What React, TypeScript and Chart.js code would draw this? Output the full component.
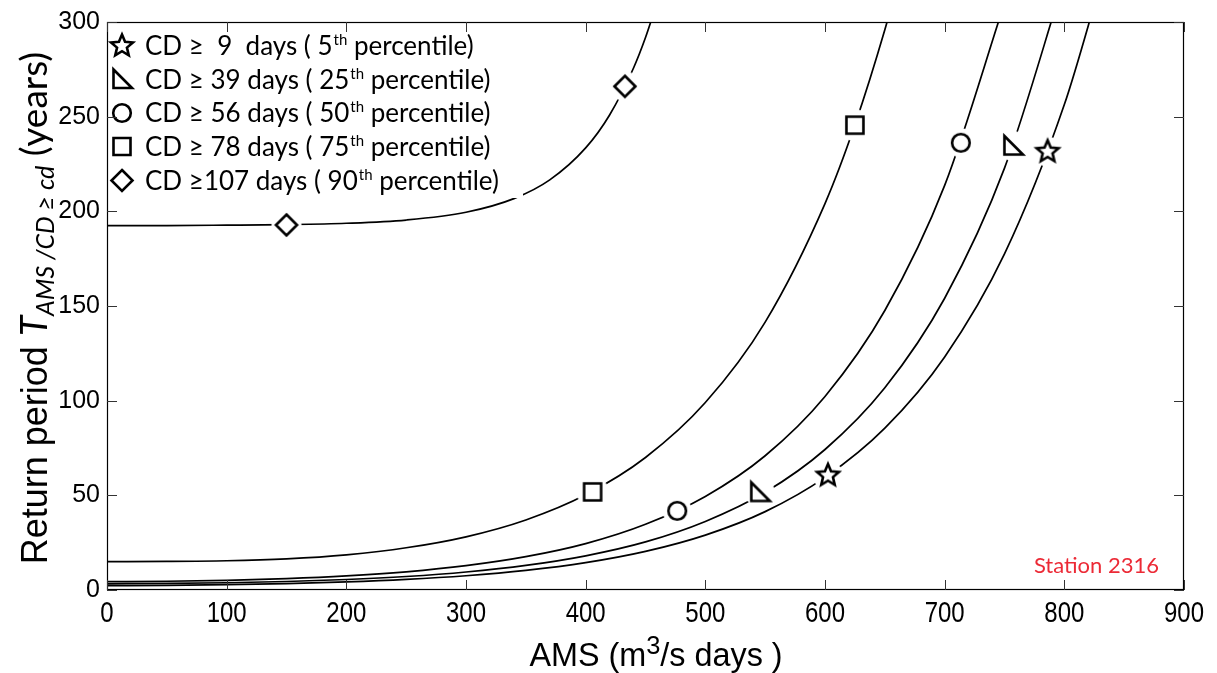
import React, { useEffect, useRef } from "react";
import { Chart, registerables } from "chart.js";

Chart.register(...registerables);

// ---------- data ----------
const X_TICKS = [0, 100, 200, 300, 400, 500, 600, 700, 800, 900];
const Y_TICKS = [0, 50, 100, 150, 200, 250, 300];

// CD >= 9 days (5th percentile) - star
const CD9_AMS = [0, 50, 100, 150, 200, 250, 300, 350, 400, 450, 500, 550, 600, 650, 700, 750, 800, 830];
const CD9_T = [2.3, 2.48, 2.82, 3.39, 4.27, 5.59, 7.53, 10.35, 14.45, 20.4, 29.0, 41.4, 59.5, 85.5, 123.1, 177.5, 256.4, 319.8];
const CD9_MARK_AMS = [602.5, 786];
const CD9_MARK_T = [60.5, 231.5];

// CD >= 39 days (25th percentile) - right triangle
const CD39_AMS = [0, 50, 100, 150, 200, 250, 300, 350, 400, 450, 500, 550, 600, 650, 700, 750, 800];
const CD39_T = [3.27, 3.45, 3.82, 4.48, 5.54, 7.14, 9.51, 12.99, 18.06, 25.4, 36.2, 51.6, 74.2, 106.8, 154.1, 222.8, 322.6];
const CD39_MARK_AMS = [545.5, 757];
const CD39_MARK_T = [51.5, 234.5];

// CD >= 56 days (50th percentile) - circle
const CD56_AMS = [0, 50, 100, 150, 200, 250, 300, 350, 400, 450, 500, 550, 600, 650, 700, 750];
const CD56_T = [4.39, 4.63, 5.13, 6.02, 7.45, 9.62, 12.86, 17.6, 24.5, 34.7, 49.4, 70.9, 102.2, 147.6, 213.7, 310];
const CD56_MARK_AMS = [476.5, 713.5];
const CD56_MARK_T = [41.8, 236.2];

// CD >= 78 days (75th percentile) - square
const CD78_AMS = [0, 50, 100, 150, 200, 250, 300, 350, 400, 450, 500, 550, 600, 625, 650, 660];
const CD78_T = [15.0, 15.08, 15.45, 16.48, 18.6, 22.3, 28.1, 37.0, 50.3, 70.0, 99.0, 141.5, 204.1, 245.7, 295.9, 319];
const CD78_MARK_AMS = [405.8, 625];
const CD78_MARK_T = [51.8, 245.5];

// CD >= 107 days (90th percentile) - diamond
const CD107_AMS = [0, 50, 100, 150, 200, 250, 300, 340, 370, 400, 420, 440, 450, 460];
const CD107_T = [192.5, 192.5, 192.7, 193.0, 193.7, 195.4, 199.5, 206.7, 216.6, 233.5, 250.9, 275.7, 291.8, 311];
const CD107_MARK_AMS = [150, 432.8];
const CD107_MARK_T = [192.8, 266];

const LEGEND_SHAPES = ["star", "triangle", "circle", "square", "diamond"];
const LEGEND_MAIN = ["CD \u2265  9  days ( 5", "CD \u2265 39 days ( 25", "CD \u2265 56 days ( 50", "CD \u2265 78 days ( 75", "CD \u2265107 days ( 90"];
const LEGEND_SUP = ["th", "th", "th", "th", "th"];
const LEGEND_TAIL = [" percentile)", " percentile)", " percentile)", " percentile)", " percentile)"];

const STATION_LABEL = "Station 2316";

// ---------- drawing helpers ----------
function drawShape(ctx: CanvasRenderingContext2D, kind: string, cx: number, cy: number) {
  ctx.save();
  ctx.strokeStyle = "#000";
  ctx.fillStyle = "#fff";
  ctx.lineWidth = 2.6;
  ctx.lineJoin = "miter";
  ctx.beginPath();
  if (kind === "square") {
    ctx.rect(cx - 8.5, cy - 8.5, 17, 17);
  } else if (kind === "circle") {
    ctx.arc(cx, cy, 8.8, 0, Math.PI * 2);
  } else if (kind === "diamond") {
    ctx.moveTo(cx, cy - 10.5);
    ctx.lineTo(cx + 10.5, cy);
    ctx.lineTo(cx, cy + 10.5);
    ctx.lineTo(cx - 10.5, cy);
    ctx.closePath();
  } else if (kind === "triangle") {
    ctx.moveTo(cx - 8.5, cy - 10);
    ctx.lineTo(cx - 8.5, cy + 8.5);
    ctx.lineTo(cx + 10, cy + 8.5);
    ctx.closePath();
  } else if (kind === "star") {
    const R = 11.5;
    const r = 5.2;
    for (let i = 0; i < 10; i++) {
      const a = -Math.PI / 2 + (i * Math.PI) / 5;
      const rr = i % 2 === 0 ? R : r;
      const px = cx + rr * Math.cos(a);
      const py = cy + rr * Math.sin(a);
      if (i === 0) ctx.moveTo(px, py);
      else ctx.lineTo(px, py);
    }
    ctx.closePath();
  }
  ctx.fill();
  ctx.stroke();
  ctx.restore();
}

function makeMarker(kind: string, gap: number): HTMLCanvasElement {
  const c = document.createElement("canvas");
  const s = 40;
  c.width = s;
  c.height = s;
  const ctx = c.getContext("2d") as CanvasRenderingContext2D;
  ctx.fillStyle = "#fff";
  ctx.beginPath();
  ctx.arc(s / 2, s / 2, gap, 0, Math.PI * 2);
  ctx.fill();
  drawShape(ctx, kind, s / 2, s / 2);
  return c;
}

const SANS = '"Liberation Sans", Arial, sans-serif';
const CAL = 'Lato, "Open Sans", sans-serif';

type Part = { t: string; f: string; dy: number };

function partsWidth(ctx: CanvasRenderingContext2D, parts: Part[]) {
  let total = 0;
  for (const p of parts) {
    ctx.font = p.f;
    total += ctx.measureText(p.t).width;
  }
  return total;
}

function drawParts(ctx: CanvasRenderingContext2D, parts: Part[], cx: number, baseline: number) {
  const total = partsWidth(ctx, parts);
  let x = cx - total / 2;
  for (const p of parts) {
    ctx.font = p.f;
    ctx.fillText(p.t, x, baseline + p.dy);
    x += ctx.measureText(p.t).width;
  }
}

const decorPlugin = {
  id: "decor",
  afterDatasetsDraw(chart: any) {
    const { ctx, chartArea: ca } = chart;
    ctx.save();
    // legend box (white, no border)
    ctx.fillStyle = "#fff";
    ctx.fillRect(ca.left + 1, ca.top + 1, 522 - ca.left, 197 - ca.top);
    const rowY = [46, 79.5, 113, 146.5, 180.5];
    for (let i = 0; i < LEGEND_MAIN.length; i++) {
      drawShape(ctx, LEGEND_SHAPES[i], 122, rowY[i]);
      ctx.fillStyle = "#000";
      ctx.textBaseline = "alphabetic";
      ctx.textAlign = "left";
      let x = 145;
      const base = rowY[i] + 9;
      ctx.font = `26px ${CAL}`;
      ctx.fillText(LEGEND_MAIN[i], x, base);
      x += ctx.measureText(LEGEND_MAIN[i]).width;
      ctx.font = `15px ${CAL}`;
      ctx.fillText(LEGEND_SUP[i], x + 1, base - 10);
      x += ctx.measureText(LEGEND_SUP[i]).width + 1;
      ctx.font = `26px ${CAL}`;
      ctx.fillText(LEGEND_TAIL[i], x, base);
    }
    // station label
    ctx.fillStyle = "#ec2a36";
    ctx.font = `22px ${CAL}`;
    ctx.textAlign = "right";
    ctx.fillText(STATION_LABEL, 1159, 573);
    ctx.restore();
  },
  afterDraw(chart: any) {
    const { ctx, chartArea: ca, scales } = chart;
    ctx.save();
    // frame
    ctx.strokeStyle = "#000";
    ctx.lineWidth = 1.2;
    ctx.strokeRect(ca.left + 0.5, ca.top + 0.5, ca.right - ca.left - 1, ca.bottom - ca.top - 1);
    // inward ticks on all sides
    ctx.strokeStyle = "#333";
    ctx.lineWidth = 1;
    const TL = 10;
    ctx.beginPath();
    for (const v of X_TICKS) {
      const px = Math.round(scales.x.getPixelForValue(v)) + 0.5;
      ctx.moveTo(px, ca.bottom);
      ctx.lineTo(px, ca.bottom - TL);
      ctx.moveTo(px, ca.top);
      ctx.lineTo(px, ca.top + TL);
    }
    for (const v of Y_TICKS) {
      const py = Math.round(scales.y.getPixelForValue(v)) + 0.5;
      ctx.moveTo(ca.left, py);
      ctx.lineTo(ca.left + TL, py);
      ctx.moveTo(ca.right, py);
      ctx.lineTo(ca.right - TL, py);
    }
    ctx.stroke();

    ctx.fillStyle = "#000";
    ctx.textBaseline = "alphabetic";

    // x tick labels (condensed, like the reference)
    const SX = 0.8;
    ctx.font = `30px ${SANS}`;
    ctx.textAlign = "center";
    for (const v of X_TICKS) {
      const px = scales.x.getPixelForValue(v);
      ctx.save();
      ctx.translate(px, 622);
      ctx.scale(SX, 1);
      ctx.fillText(String(v), 0, 0);
      ctx.restore();
    }

    // x axis title
    ctx.textAlign = "left";
    const xParts: Part[] = [
      { t: "AMS (m", f: `33px ${SANS}`, dy: 0 },
      { t: "3", f: `26px ${SANS}`, dy: -12 },
      { t: "/s days )", f: `33px ${SANS}`, dy: 0 },
    ];
    ctx.save();
    ctx.translate(656, 666);
    ctx.scale(0.98, 1);
    drawParts(ctx, xParts, 0, 0);
    ctx.restore();

    // y axis title (rotated)
    ctx.save();
    ctx.translate(47, (ca.top + ca.bottom) / 2 + 2);
    ctx.rotate(-Math.PI / 2);
    drawParts(
      ctx,
      [
        { t: "Return period ", f: `36px ${SANS}`, dy: 0 },
        { t: "T", f: `italic 37px ${CAL}`, dy: 0 },
        { t: "AMS /CD \u2265 cd", f: `italic 25px ${CAL}`, dy: 7 },
        { t: " (years)", f: `37px ${CAL}`, dy: 0 },
      ],
      0,
      0
    );
    ctx.restore();
    ctx.restore();
  },
};

function toXY(xs: number[], ys: number[]) {
  return xs.map((x, i) => ({ x, y: ys[i] }));
}

export default function App() {
  const ref = useRef<HTMLCanvasElement | null>(null);

  useEffect(() => {
    const canvas = ref.current;
    if (!canvas) return;

    const curves = [
      { xs: CD9_AMS, ys: CD9_T, mx: CD9_MARK_AMS, my: CD9_MARK_T, shape: "star", gap: 15 },
      { xs: CD39_AMS, ys: CD39_T, mx: CD39_MARK_AMS, my: CD39_MARK_T, shape: "triangle", gap: 15 },
      { xs: CD56_AMS, ys: CD56_T, mx: CD56_MARK_AMS, my: CD56_MARK_T, shape: "circle", gap: 14.5 },
      { xs: CD78_AMS, ys: CD78_T, mx: CD78_MARK_AMS, my: CD78_MARK_T, shape: "square", gap: 16 },
      { xs: CD107_AMS, ys: CD107_T, mx: CD107_MARK_AMS, my: CD107_MARK_T, shape: "diamond", gap: 15 },
    ];

    const datasets: any[] = [];
    curves.forEach((c) => {
      datasets.push({
        type: "line",
        data: toXY(c.xs, c.ys),
        borderColor: "#000",
        borderWidth: 1.7,
        pointRadius: 0,
        fill: false,
        cubicInterpolationMode: "monotone",
        order: 2,
      });
    });
    curves.forEach((c) => {
      datasets.push({
        type: "scatter",
        data: toXY(c.mx, c.my),
        pointStyle: makeMarker(c.shape, c.gap),
        pointRadius: 12,
        showLine: false,
        order: 1,
        clip: false,
      });
    });

    const chart = new Chart(canvas, {
      type: "line",
      data: { datasets },
      options: {
        responsive: false,
        maintainAspectRatio: false,
        devicePixelRatio: 1,
        animation: false,
        events: [],
        layout: { padding: { top: 21, right: 33, left: 0, bottom: 0 } },
        plugins: { legend: { display: false }, tooltip: { enabled: false } },
        scales: {
          x: {
            type: "linear",
            min: 0,
            max: 900,
            afterFit: (s: any) => {
              s.height = 83;
            },
            afterBuildTicks: (s: any) => {
              s.ticks = X_TICKS.map((v) => ({ value: v }));
            },
            grid: { display: false, drawTicks: false },
            border: { display: false },
            ticks: { display: false },
          },
          y: {
            type: "linear",
            min: 0,
            max: 300,
            afterFit: (s: any) => {
              s.width = 107;
            },
            afterBuildTicks: (s: any) => {
              s.ticks = Y_TICKS.map((v) => ({ value: v }));
            },
            grid: { display: false, drawTicks: false },
            border: { display: false },
            ticks: {
              color: "#000",
              padding: 7,
              font: { family: SANS, size: 25 },
            },
          },
        },
      },
      plugins: [decorPlugin],
    });

    return () => chart.destroy();
  }, []);

  return (
    <div style={{ position: "absolute", left: 0, top: 0, width: 1217, height: 673, background: "#fff" }}>
      <canvas ref={ref} width={1217} height={673} style={{ display: "block", width: 1217, height: 673 }} />
    </div>
  );
}
